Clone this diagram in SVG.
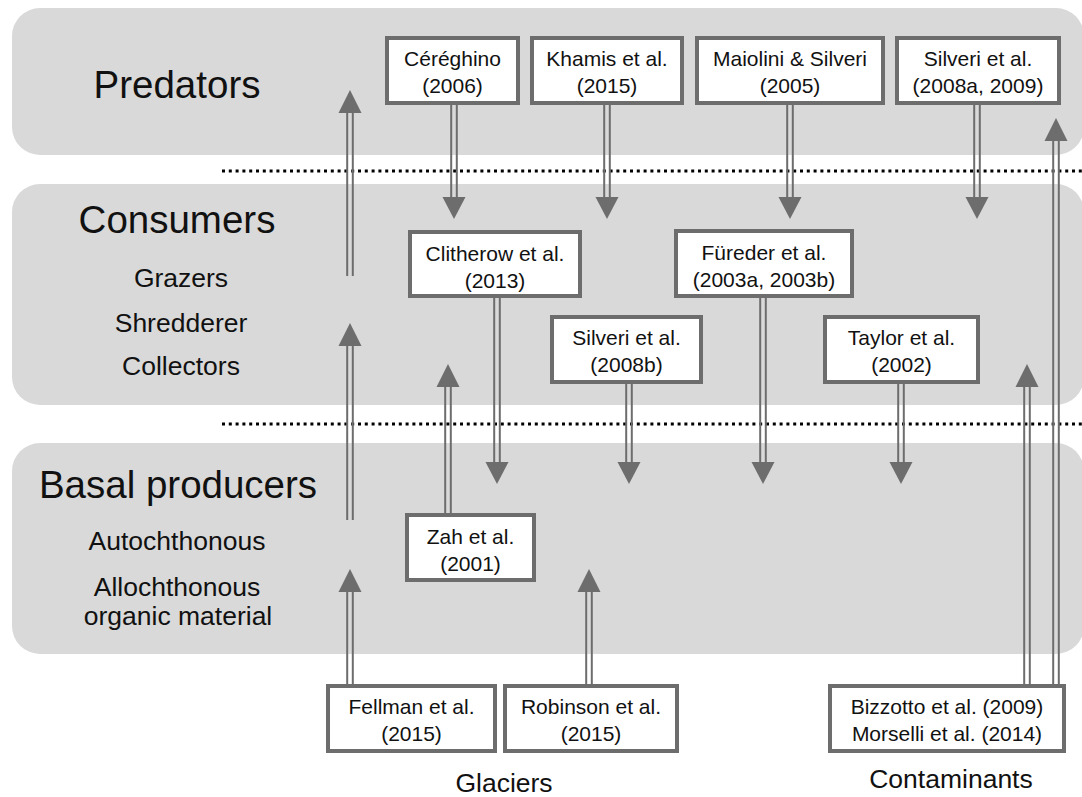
<svg xmlns="http://www.w3.org/2000/svg" width="1082" height="797" viewBox="0 0 1082 797">
<style>
.band{fill:#d9d9d9}
.dot{stroke:#000;stroke-width:3;stroke-dasharray:3 3.8;fill:none}
.box{fill:#fff;stroke:#6d6d6d;stroke-width:4}
.sh{stroke:#6d6d6d;stroke-width:2;fill:none}
.hd{fill:#6d6d6d}
text{font-family:"Liberation Sans",Arial,Helvetica,sans-serif;fill:#111;text-anchor:middle}
.h{font-size:38.5px}
.s{font-size:26.5px}
.b{font-size:21px}
</style>
<rect width="1082" height="797" fill="#fff"/>
<g id="bands">
<rect class="band" x="12" y="8" width="1072" height="147" rx="28"/>
<rect class="band" x="12" y="184" width="1072" height="221" rx="28"/>
<rect class="band" x="12" y="443" width="1072" height="211" rx="28"/>
<line class="dot" x1="222" y1="171" x2="1082" y2="171"/>
<line class="dot" x1="222" y1="424" x2="1082" y2="424"/>
</g>
<g id="labels">
<text class="h" x="177" y="98">Predators</text>
<text class="h" x="177" y="233">Consumers</text>
<text class="s" x="181" y="287">Grazers</text>
<text class="s" x="181" y="332">Shredderer</text>
<text class="s" x="181" y="375">Collectors</text>
<text class="h" x="178" y="498">Basal producers</text>
<text class="s" x="177" y="550">Autochthonous</text>
<text class="s" x="177" y="596">Allochthonous</text>
<text class="s" x="178" y="625">organic material</text>
<text class="s" x="504" y="792">Glaciers</text>
<text class="s" x="951" y="788">Contaminants</text>
</g>
<g id="connectors">
<path class="sh" d="M451.2 105V198M456.8 105V198"/><path class="hd" d="M442.5 197H465.5L454 219Z"/>
<path class="sh" d="M604.2 105V198M609.8 105V198"/><path class="hd" d="M595.5 197H618.5L607 219Z"/>
<path class="sh" d="M787.2 105V198M792.8 105V198"/><path class="hd" d="M778.5 197H801.5L790 219Z"/>
<path class="sh" d="M974.2 105V198M979.8 105V198"/><path class="hd" d="M965.5 197H988.5L977 219Z"/>
<path class="sh" d="M494.2 297V463M499.8 297V463"/><path class="hd" d="M485.5 462H508.5L497 484Z"/>
<path class="sh" d="M626.2 383V463M631.8 383V463"/><path class="hd" d="M617.5 462H640.5L629 484Z"/>
<path class="sh" d="M760.2 298V463M765.8 298V463"/><path class="hd" d="M751.5 462H774.5L763 484Z"/>
<path class="sh" d="M898.2 383V463M903.8 383V463"/><path class="hd" d="M889.5 462H912.5L901 484Z"/>
<path class="sh" d="M347.2 276V112M352.8 276V112"/><path class="hd" d="M338.5 113H361.5L350 90Z"/>
<path class="sh" d="M347.2 520V345M352.8 520V345"/><path class="hd" d="M338.5 346H361.5L350 323Z"/>
<path class="sh" d="M347.2 684V591M352.8 684V591"/><path class="hd" d="M338.5 592H361.5L350 569Z"/>
<path class="sh" d="M445.2 513V386M450.8 513V386"/><path class="hd" d="M436.5 387H459.5L448 364Z"/>
<path class="sh" d="M586.2 684V591M591.8 684V591"/><path class="hd" d="M577.5 592H600.5L589 569Z"/>
<path class="sh" d="M1024.2 684V386M1029.8 684V386"/><path class="hd" d="M1015.5 387H1038.5L1027 364Z"/>
<path class="sh" d="M1053.2 684V140M1058.8 684V140"/><path class="hd" d="M1044.5 141H1067.5L1056 118Z"/>
</g>
<g id="n-cereghino"><rect class="box" x="387" y="38" width="131" height="65"/><text class="b" x="452.5" y="66">Céréghino</text><text class="b" x="452.5" y="93">(2006)</text></g>
<g id="n-khamis"><rect class="box" x="532" y="38" width="150" height="65"/><text class="b" x="607" y="66">Khamis et al.</text><text class="b" x="607" y="93">(2015)</text></g>
<g id="n-maiolini"><rect class="box" x="697" y="38" width="186" height="65"/><text class="b" x="790" y="66">Maiolini &amp; Silveri</text><text class="b" x="790" y="93">(2005)</text></g>
<g id="n-silveri-a"><rect class="box" x="897" y="38" width="162" height="65"/><text class="b" x="978" y="66">Silveri et al.</text><text class="b" x="978" y="93">(2008a, 2009)</text></g>
<g id="n-clitherow"><rect class="box" x="410" y="232" width="170" height="64"/><text class="b" x="495" y="261">Clitherow et al.</text><text class="b" x="495" y="288">(2013)</text></g>
<g id="n-fureder"><rect class="box" x="676" y="231" width="176" height="65"/><text class="b" x="764" y="260">Füreder et al.</text><text class="b" x="764" y="287">(2003a, 2003b)</text></g>
<g id="n-silveri-b"><rect class="box" x="552" y="317" width="149" height="65"/><text class="b" x="626.5" y="345">Silveri et al.</text><text class="b" x="626.5" y="372">(2008b)</text></g>
<g id="n-taylor"><rect class="box" x="825" y="317" width="153" height="65"/><text class="b" x="901.5" y="345">Taylor et al.</text><text class="b" x="901.5" y="372">(2002)</text></g>
<g id="n-zah"><rect class="box" x="407" y="515" width="127" height="65"/><text class="b" x="470.5" y="544">Zah et al.</text><text class="b" x="470.5" y="571">(2001)</text></g>
<g id="n-fellman"><rect class="box" x="328" y="686" width="167" height="65"/><text class="b" x="411.5" y="714">Fellman et al.</text><text class="b" x="411.5" y="741">(2015)</text></g>
<g id="n-robinson"><rect class="box" x="505" y="686" width="172" height="65"/><text class="b" x="591" y="714">Robinson et al.</text><text class="b" x="591" y="741">(2015)</text></g>
<g id="n-bizzotto"><rect class="box" x="830" y="686" width="234" height="65"/><text class="b" x="947" y="714">Bizzotto et al. (2009)</text><text class="b" x="947" y="741">Morselli et al. (2014)</text></g>
</svg>
